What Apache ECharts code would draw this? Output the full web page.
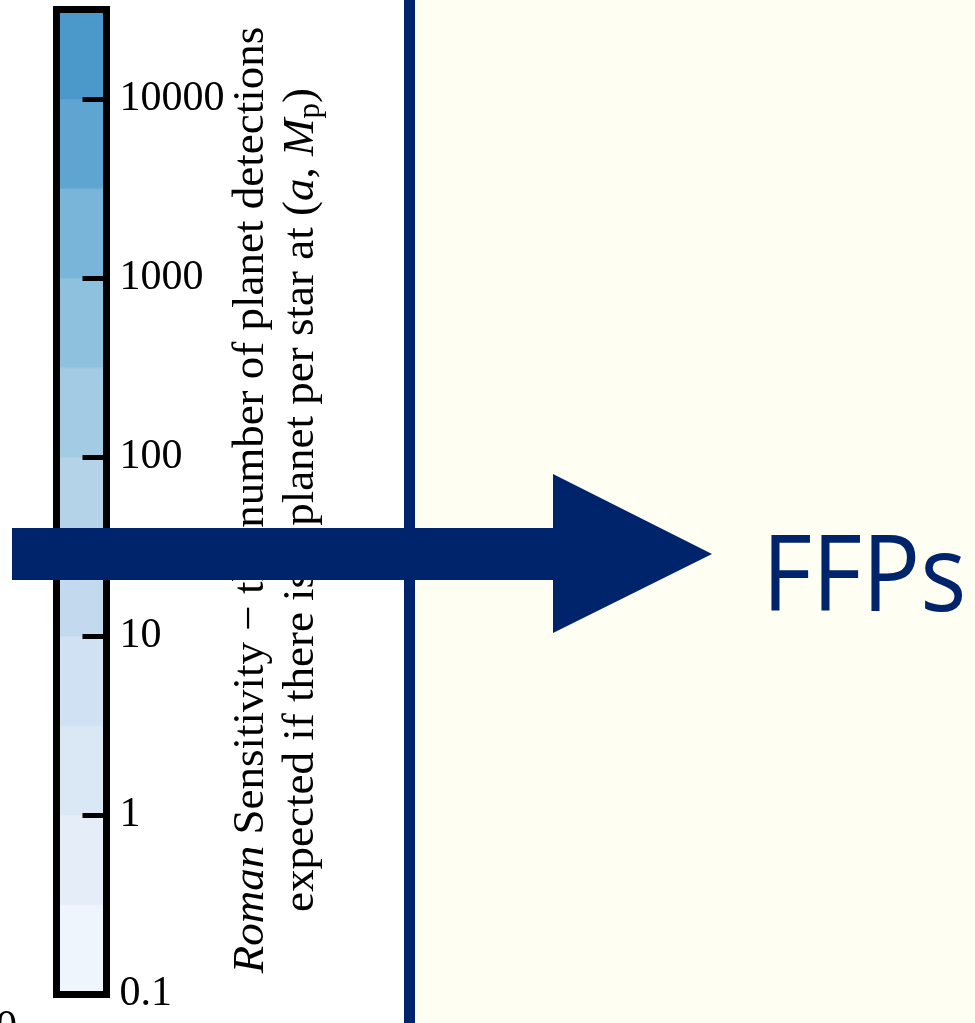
<!DOCTYPE html>
<html>
<head>
<meta charset="utf-8">
<script src="https://cdn.jsdelivr.net/npm/echarts@6/dist/echarts.min.js"></script>
<style>
  html, body { margin: 0; padding: 0; background: #ffffff; }
  #chart { width: 975px; height: 1023px; }
</style>
</head>
<body>
<div id="chart"></div>
<script>
// Colour-bar band edges (detections per star), one band per half decade
const bandEdges = [0.1, 0.316, 1, 3.16, 10, 31.6, 100, 316, 1000, 3162, 10000, 31623];
// Band fill colours, lowest band first
const bandColors = ['#eff5fc', '#e4edf8', '#dae8f5', '#cfe1f2', '#c3d9ee', '#b4d3e8',
                    '#a3cbe3', '#8ec1de', '#78b5d9', '#5fa5d1', '#4b98ca'];
// Tick values shown on the colour bar
const tickValues = [0.1, 1, 10, 100, 1000, 10000];
// Colour-bar title lines
const titleLine1 = '{i|Roman} Sensitivity \u2212 the number of planet detections';
const titleLine2 = 'expected if there is 1 planet per star at ({i|a}, {i|M}{s|p})';
const arrowLabel = 'FFPs';

const serif = 'Liberation Serif';
const navy = '#00246b';

const lg = v => Math.log10(v);
const bands = [];
for (let i = 0; i < bandEdges.length - 1; i++) {
  bands.push([lg(bandEdges[i]), lg(bandEdges[i + 1])]);
}
const tickLogs = tickValues.map(lg);
const yMin = lg(bandEdges[0]);
const yMax = 4.5;

const chart = echarts.init(document.getElementById('chart'), null, { renderer: 'canvas' });

const edgeLine = { show: true, onZero: false, lineStyle: { color: '#000', width: 7, cap: 'square' } };
const hidden = { show: false };

const option = {
  animation: false,
  backgroundColor: '#ffffff',
  grid: [{ left: 56.5, top: 9.6, width: 50, height: 984.4, show: false }],
  xAxis: [
    { type: 'value', min: 0, max: 1, position: 'bottom', axisLine: edgeLine, axisTick: hidden, axisLabel: hidden, splitLine: hidden, z: 10 },
    { type: 'value', min: 0, max: 1, position: 'top', axisLine: edgeLine, axisTick: hidden, axisLabel: hidden, splitLine: hidden, z: 10 }
  ],
  yAxis: [
    {
      type: 'value', min: yMin, max: yMax, position: 'right', z: 10,
      axisLine: edgeLine,
      splitLine: hidden,
      axisTick: { show: true, inside: true, length: 24, customValues: tickLogs, lineStyle: { color: '#000', width: 5 } },
      axisLabel: {
        show: true, customValues: tickLogs, margin: 13, color: '#000',
        fontFamily: serif, fontSize: 42,
        formatter: v => {
          const idx = tickLogs.findIndex(t => Math.abs(t - v) < 1e-6);
          return idx >= 0 ? String(tickValues[idx]) : '';
        }
      }
    },
    { type: 'value', min: yMin, max: yMax, position: 'left', z: 10, axisLine: edgeLine, axisTick: hidden, axisLabel: hidden, splitLine: hidden }
  ],
  series: [{
    type: 'custom',
    xAxisIndex: 0, yAxisIndex: 0,
    encode: { y: [0, 1] },
    data: bands,
    z: 2,
    renderItem: (params, api) => {
      const lo = api.value(0), hi = api.value(1);
      const a = api.coord([0, hi]);
      const b = api.coord([1, lo]);
      const c = bandColors[params.dataIndex];
      return {
        type: 'rect',
        shape: { x: a[0], y: a[1], width: b[0] - a[0], height: b[1] - a[1] },
        style: { fill: c, stroke: c, lineWidth: 0.6 }
      };
    }
  }],
  graphic: [
    // pale panel right of the divider
    { type: 'rect', z: -5, shape: { x: 410, y: 0, width: 565, height: 1023 }, style: { fill: '#fefef2' } },
    // vertical divider
    { type: 'rect', z: 50, shape: { x: 404, y: 0, width: 11, height: 1023 }, style: { fill: navy } },
    // rotated colour-bar title
    {
      type: 'text', z: 20, x: 276, y: 500, rotation: Math.PI / 2,
      style: {
        text: titleLine1 + '\n' + titleLine2,
        align: 'center', verticalAlign: 'middle',
        fontFamily: serif, fontSize: 45, lineHeight: 50, fill: '#000',
        rich: {
          i: { fontFamily: serif, fontSize: 45, fontStyle: 'italic', lineHeight: 50, fill: '#000' },
          s: { fontFamily: serif, fontSize: 31, lineHeight: 50, verticalAlign: 'bottom', fill: '#000' }
        }
      }
    },
    // cut-off axis label at the lower-left edge
    { type: 'text', z: 20, x: -4, y: 1007, style: { text: '0', fontFamily: serif, fontSize: 42, fill: '#000', align: 'left', verticalAlign: 'top' } },
    // arrow
    {
      type: 'polygon', z: 100,
      shape: { points: [[12, 528], [553, 528], [553, 474], [712, 554], [553, 633], [553, 580], [12, 580]] },
      style: { fill: navy }
    },
    // arrow label
    {
      type: 'text', z: 100, x: 762, y: 581, scaleX: 0.905,
      style: { text: arrowLabel, fontFamily: 'Open Sans', fontSize: 107, fill: navy, align: 'left', verticalAlign: 'middle' }
    }
  ]
};

chart.setOption(option);
</script>
</body>
</html>
